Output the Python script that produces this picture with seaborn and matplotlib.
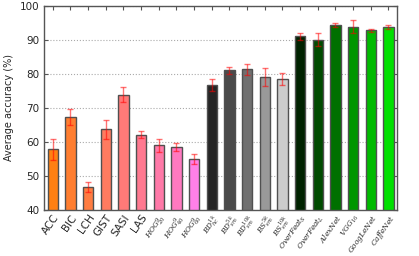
import numpy as np
import pandas as pd
import matplotlib
matplotlib.use("Agg")
import matplotlib.pyplot as plt
import seaborn as sns

# descritores e resultados
labels = ['ACC', 'BIC', 'LCH', 'GIST', 'SASI', 'LAS',
          r'$HOG^{9}_{20}$', r'$HOG^{9}_{40}$', r'$HOG^{9}_{60}$',
          r'$BD^{1k}_{hc}$', r'$BD^{5k}_{sm}$', r'$BD^{10k}_{sm}$',
          r'$BS^{5k}_{sm}$', r'$BS^{10k}_{sm}$',
          r'$OverFeat_S$', r'$OverFeat_L$', r'$AlexNet$', r'$VGG_{16}$',
          r'$GoogLeNet$', r'$CaffeNet$']
accuracy = [57.8, 67.4, 46.7, 63.7, 73.9, 62.1, 59.0, 58.5, 55.0,
            76.7, 81.0, 81.3, 79.0, 78.5,
            91.0, 90.1, 94.4, 93.9, 92.8, 93.8]
std = [3.0, 2.4, 1.4, 2.7, 2.2, 1.0, 2.0, 1.3, 1.5,
       1.7, 1.1, 1.6, 2.6, 1.9,
       1.1, 1.8, 0.6, 2.0, 0.5, 0.7]
colors = ['#ff8012', '#ff7e30', '#ff7d42', '#ff7b60', '#ff7a78', '#ff7990',
          '#ff79a8', '#ff79c0', '#ff80e8',
          '#252525', '#4a4a4a', '#707070', '#999999', '#cccccc',
          '#002200', '#004b00', '#007000', '#009600', '#00ba00', '#00e000']

df = pd.DataFrame({'label': labels, 'acc': accuracy})

sns.set_style('white')
plt.rcParams['font.family'] = ['DejaVu Sans']
plt.rcParams['mathtext.fontset'] = 'dejavuserif'

fig, ax = plt.subplots(figsize=(4.19, 2.56), dpi=100)
sns.barplot(data=df, x='label', y='acc', hue='label', palette=colors,
            saturation=1, width=0.58, edgecolor='#505050', linewidth=1.0,
            legend=False, ax=ax)
ax.errorbar(np.arange(len(labels)), accuracy, yerr=std, fmt='none',
            ecolor='red', alpha=0.55, elinewidth=1.0, capsize=2, capthick=1)

ax.set_ylim(40, 100)
ax.set_xlim(-0.5, len(labels) - 0.5)
ax.set_yticks(range(40, 101, 10))
ax.yaxis.grid(True, linestyle=':', color='#aaaaaa', linewidth=0.8)
ax.set_axisbelow(True)
ax.set_xlabel('')
ax.set_ylabel('Average accuracy (%)', fontsize=7)
ax.set_xticks(range(len(labels)))
ax.set_xticklabels(labels, rotation=55, ha='right', fontsize=7.5,
                   rotation_mode='anchor')
for t in ax.get_xticklabels():
    if t.get_text().startswith('$'):
        t.set_fontsize(5.3)
ax.tick_params(axis='y', labelsize=7.5)
ax.tick_params(axis='x', pad=2)
ax.tick_params(direction='in', length=3, top=True, right=True,
               color='#555555', bottom=True, left=True)
for s in ax.spines.values():
    s.set_color('#555555')
    s.set_linewidth(1.0)

plt.subplots_adjust(left=0.105, right=0.948, top=0.977, bottom=0.18)
plt.savefig('out.png', dpi=100)
